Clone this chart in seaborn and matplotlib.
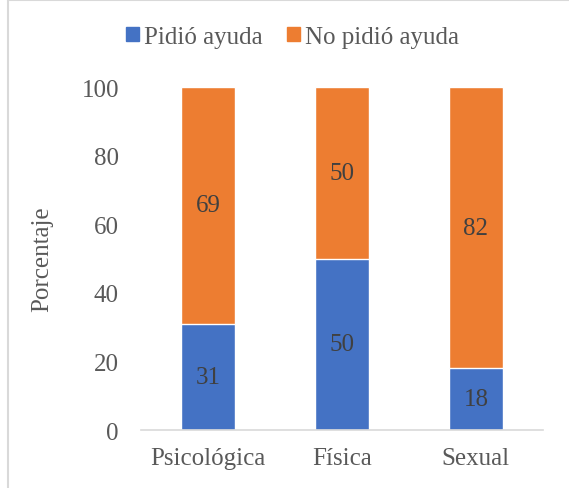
import pandas as pd
import numpy as np
import seaborn as sns
import matplotlib.pyplot as plt
from matplotlib.lines import Line2D
from matplotlib.patches import Patch

# Data
categorias = ["Psicológica", "Física", "Sexual"]
pidio = [31, 50, 18]
no_pidio = [69, 50, 82]

azul = "#4472C4"
naranja = "#ED7D31"
gris_txt = "#595959"

df = pd.DataFrame({"categoria": categorias, "pidio": pidio, "no_pidio": no_pidio})
df["total"] = df["pidio"] + df["no_pidio"]

sns.set_style("white")
plt.rcParams["font.family"] = ["Liberation Serif", "DejaVu Serif"]

fig = plt.figure(figsize=(5.69, 4.89), dpi=100)
ax = fig.add_axes([0.248, 0.1186, 0.706, 0.7014])

# stacked: total in orange, blue part drawn over it
sns.barplot(data=df, x="categoria", y="total", color=naranja, saturation=1,
            width=0.4, ax=ax)
sns.barplot(data=df, x="categoria", y="pidio", color=azul, saturation=1,
            width=0.4, ax=ax)

for i, row in df.iterrows():
    ax.text(i, row["pidio"] / 2, str(row["pidio"]), ha="center", va="center",
            fontsize=18, color="#404040")
    ax.text(i, row["pidio"] + row["no_pidio"] / 2, str(row["no_pidio"]),
            ha="center", va="center", fontsize=18, color="#404040")

ax.set_ylim(0, 100)
ax.set_xlim(-0.5, 2.5)
ax.set_yticks([0, 20, 40, 60, 80, 100])
ax.set_xlabel("")
ax.set_ylabel("Porcentaje", fontsize=18, color=gris_txt, labelpad=20)
ax.tick_params(axis="y", length=0, pad=16, labelsize=18, labelcolor=gris_txt)
ax.tick_params(axis="x", length=0, pad=12, labelsize=18, labelcolor=gris_txt)
for s in ["left", "right", "top"]:
    ax.spines[s].set_visible(False)
ax.spines["bottom"].set_color("#D9D9D9")
ax.spines["bottom"].set_linewidth(1.2)

handles = [Patch(color=azul, label="Pidió ayuda"),
           Patch(color=naranja, label="No pidió ayuda")]
leg = fig.legend(handles=handles, loc="center", bbox_to_anchor=(0.514, 0.922),
                 ncol=2, frameon=False, fontsize=18, handlelength=0.5,
                 handleheight=0.5, handletextpad=0.2, columnspacing=1.0)
for t in leg.get_texts():
    t.set_color(gris_txt)

# chart area border (left and top only visible)
fig.add_artist(Line2D([0.0135, 0.0135], [0, 0.998], transform=fig.transFigure,
                      color="#D9D9D9", linewidth=1.5))
fig.add_artist(Line2D([0.0135, 1], [0.998, 0.998], transform=fig.transFigure,
                      color="#D9D9D9", linewidth=1.5))

plt.savefig("out.png", dpi=100)
